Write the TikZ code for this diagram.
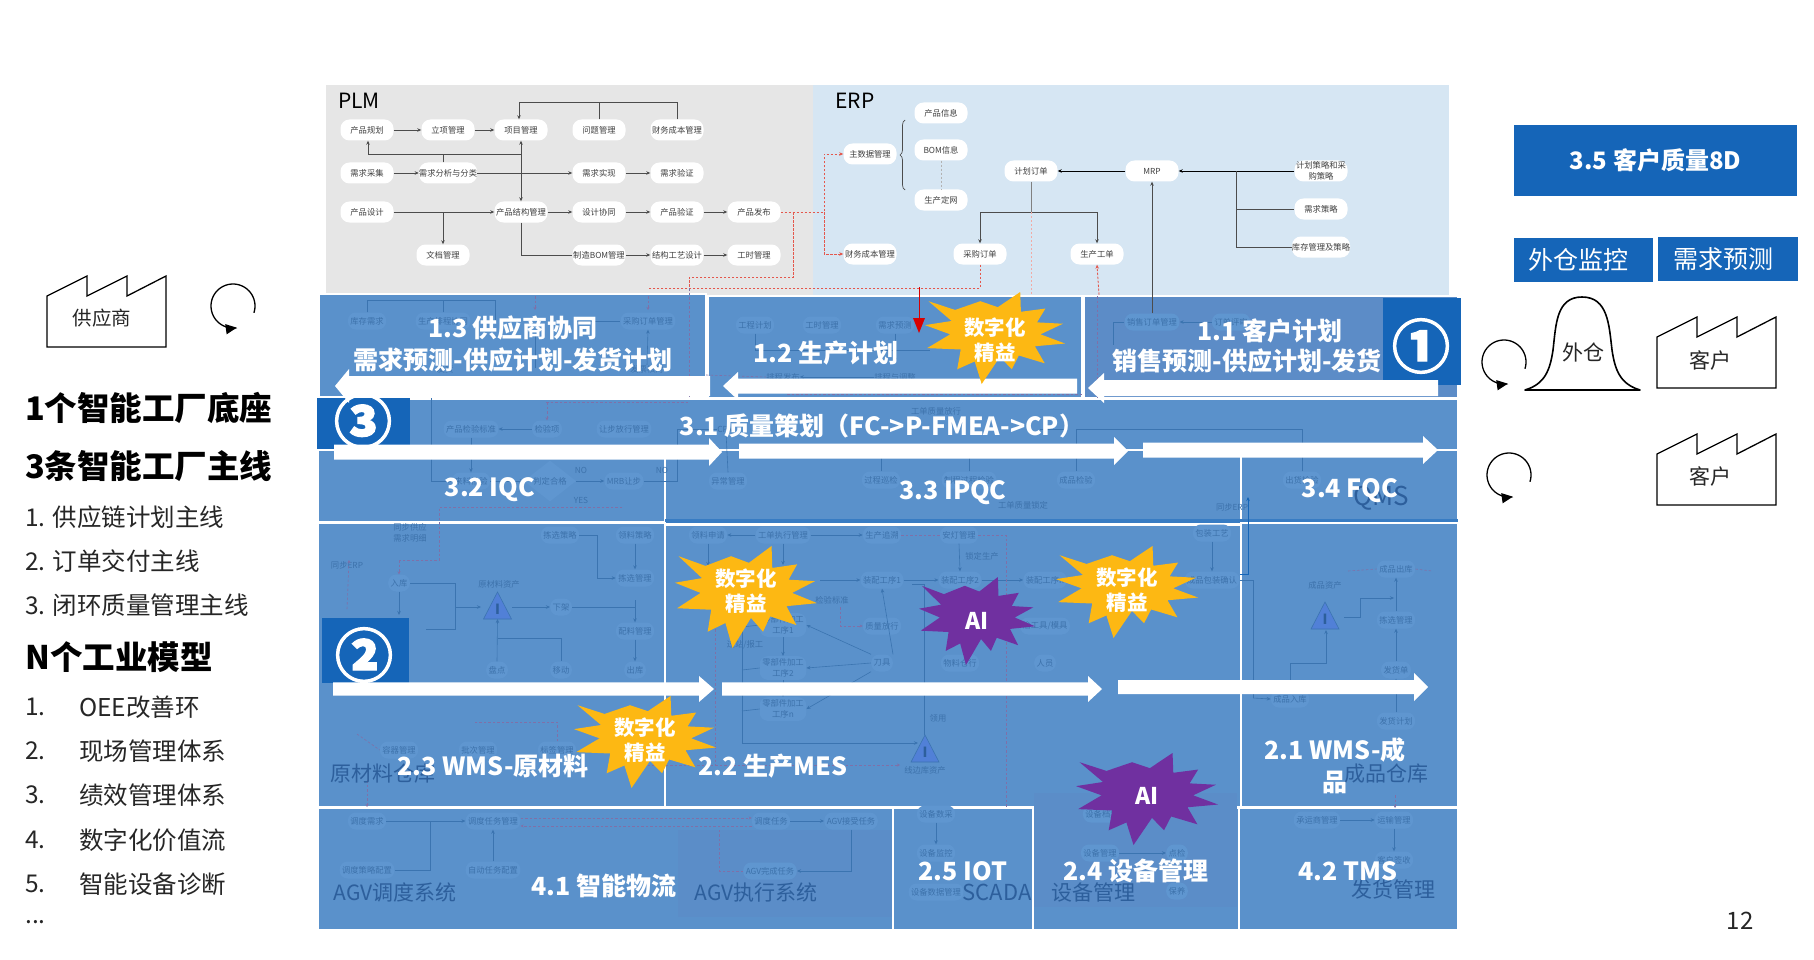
\documentclass[tikz,border=0pt]{standalone}
\usepackage{fontspec}
\setmainfont{Noto Sans CJK SC}
\newfontfamily\circf[BoldFeatures={FakeBold=2}]{Noto Sans CJK SC}
\usetikzlibrary{arrows.meta,decorations.pathreplacing,shapes.geometric}
\definecolor{plmbg}{HTML}{E6E6E6}
\definecolor{erpbg}{HTML}{D6E6F3}
\definecolor{panelc}{HTML}{5A91CB}
\definecolor{panelb}{HTML}{5C8CC7}
\definecolor{panelt}{HTML}{5B8DC8}
\definecolor{deepb}{HTML}{1565B8}
\definecolor{ghostfill}{HTML}{5F96D0}
\definecolor{ghosttxt}{HTML}{3D72AB}
\definecolor{ghostline}{HTML}{3B74B0}
\definecolor{ghostred}{HTML}{7F70A8}
\definecolor{bigghost}{HTML}{2D5F9C}
\definecolor{burstY}{HTML}{FDB813}
\definecolor{burstP}{HTML}{7030A0}
\definecolor{redd}{HTML}{E4574C}
\tikzset{
  x=1pt,y=-1pt,
  fs/.style={font=\fontsize{#1}{11}\selectfont},
  sysnode/.style={fill=white,rounded corners=9pt,minimum width=53pt,minimum height=21pt,inner sep=0pt,align=center,fs=8.3,text=black!75},
  gnodeb/.style={fill=ghostfill,rounded corners=8pt,inner sep=2.5pt,minimum height=17pt,align=center,text=ghosttxt,fs=8.3},
  gtxt/.style={inner sep=0pt,align=center,text=ghosttxt,fs=8.3},
  bigg/.style={inner sep=0pt,text=bigghost,fs=21},
  sysline/.style={draw=black!70,line width=0.7pt,-{Stealth[length=4pt,width=3.5pt]}},
  syspl/.style={draw=black!70,line width=0.7pt},
  dashr/.style={draw=redd,line width=0.8pt,dash pattern=on 2.5pt off 1.5pt},
  gl/.style={draw=ghostline,line width=0.6pt},
  gla/.style={gl,-{Stealth[length=4pt,width=3.5pt]}},
  gd/.style={draw=ghostred,line width=0.6pt,dash pattern=on 2.5pt off 2pt},
  panel/.style={fill=panelc,draw=white,line width=1.4pt},
  lab/.style={inner sep=0pt,text=white,align=center,font=\fontsize{25}{32}\selectfont\bfseries},
  deep/.style={fill=deepb},
  burstlab/.style={inner sep=0pt,text=white,align=center,font=\fontsize{20.5}{25}\selectfont\bfseries},
  ailab/.style={inner sep=0pt,text=white,font=\fontsize{23}{27}\selectfont\bfseries},
  circnum/.style={inner sep=0pt,text=white,font=\fontsize{58}{58}\selectfont\circf\bfseries},
  lefth/.style={inner sep=0pt,anchor=west,text=black,font=\fontsize{32.5}{36}\selectfont\bfseries},
  leftt/.style={inner sep=0pt,anchor=west,text=black!85,font=\fontsize{24.5}{29}\selectfont},
  bluebox/.style={fill=deepb,inner sep=0pt,text=white},
  shapeline/.style={draw=black,line width=1.3pt,fill=white,line join=miter},
  factlab/.style={inner sep=0pt,text=black!85,font=\fontsize{21}{26}\selectfont},
}
\newcommand{\gnode}[5][]{\node[gnodeb,#1] (#2) at (#3,#4) {#5};}
\newcommand{\gt}[4]{\node[gtxt] (#1) at (#2,#3) {#4};}
\newcommand{\snode}[4]{\node[sysnode] (#1) at (#2,#3) {#4};}
\newcommand{\blockarr}[6]{% tail x, head base x, tip x, y, body half, head half
  \fill[white] (#1,{#4-#5}) -- (#2,{#4-#5}) -- (#2,{#4-#6}) -- (#3,#4) -- (#2,{#4+#6}) -- (#2,{#4+#5}) -- (#1,{#4+#5}) -- cycle;}
\def\burstpath{(-.95,-.80) -- (-.57,-.61) -- (-.21,-.80) -- (.04,-.67) -- (.36,-1) -- (.37,-.57) -- (.72,-.64) -- (.60,-.34) -- (.97,-.31) -- (.65,-.08) -- (1,.12) -- (.57,.18) -- (.71,.55) -- (.34,.38) -- (.24,.68) -- (.07,.41) -- (-.19,1) -- (-.29,.51) -- (-.54,.68) -- (-.49,.25) -- (-.97,.22) -- (-.64,-.08) -- (-1,-.28) -- (-.62,-.37) -- cycle}
\newcommand{\burst}[5]{\fill[#5,shift={(#1,#2)},x=#3pt,y=-#4pt] \burstpath;}
\newcommand{\factory}[2]{% left x, bottom y
  \draw[shapeline] (#1,#2) -- (#1,{#2-51}) -- ({#1+40},{#2-71}) -- ({#1+40},{#2-51}) -- ({#1+80},{#2-71}) -- ({#1+80},{#2-51}) -- ({#1+119},{#2-71}) -- ({#1+119},#2) -- cycle;}
\newcommand{\loopmark}[2]{% centre
  \draw[black,line width=1.3pt,-{Triangle[length=11pt,width=10pt]}] plot[domain=-18:280,samples=50,smooth] ({#1+22*cos(\x)},{#2-22*sin(\x)});}
\newcommand{\gtri}[3]{% name, apex x, apex y
  \draw[gl,fill=ghostfill!85!blue] (#2,#3) -- ({#2+14},{#3+27}) -- ({#2-14},{#3+27}) -- cycle;
  \node[inner sep=0pt,text=bigghost,font=\fontsize{14}{14}\selectfont\bfseries] (#1) at (#2,{#3+17}) {I};}
\begin{document}
\begin{tikzpicture}
\useasboundingbox (0,0) rectangle (1814,960);

% ---------- top systems
\fill[plmbg] (326,85) rectangle (813,295);
\fill[erpbg] (813,85) rectangle (1449,295);
\node[inner sep=0pt,fs=21,text=black] (plmt) at (359,101) {PLM};
\node[inner sep=0pt,fs=21,text=black] (erpt) at (855,101) {ERP};

\snode{a1}{367}{130}{产品规划}
\snode{a2}{448}{130}{立项管理}
\snode{a3}{521}{130}{项目管理}
\snode{a4}{599}{130}{问题管理}
\snode{a5}{677}{130}{财务成本管理}
\snode{b1}{367}{173}{需求采集}
\snode{b2}{448}{173}{需求分析与分类}
\snode{b3}{599}{173}{需求实现}
\snode{b4}{677}{173}{需求验证}
\snode{c1}{367}{212}{产品设计}
\snode{c2}{521}{212}{产品结构管理}
\snode{c3}{599}{212}{设计协同}
\snode{c4}{677}{212}{产品验证}
\snode{c5}{754}{212}{产品发布}
\snode{d1}{443}{255}{文档管理}
\snode{d2}{599}{255}{制造BOM管理}
\snode{d3}{677}{255}{结构工艺设计}
\snode{d4}{754}{255}{工时管理}
\coordinate (jt) at (519,102);
\coordinate (jm) at (521,154);
\coordinate (jl) at (368,154);
\draw[sysline] (a1)--(a2);
\draw[sysline] (a2)--(a3);
\draw[sysline] (a5.north) |- (jt) -- (a3.north -| jt);
\draw[syspl] (a4.north) -- (a4.north |- jt);
\draw[sysline] (jm) -- (jl) -- (a1.south -| jl);
\draw[sysline,{Stealth[length=4pt,width=3.5pt]}-{Stealth[length=4pt,width=3.5pt]}] (a3.south) -- (c2.north);
\draw[syspl] (b2.north -| 443,0) -- (443,154);
\draw[sysline] (b1)--(b2);
\draw[sysline] (b2)--(b3);
\draw[sysline] (b3)--(b4);
\draw[sysline] (c1)--(c2);
\draw[sysline] (c2)--(c3);
\draw[sysline] (c3)--(c4);
\draw[sysline] (c4)--(c5);
\draw[sysline] (c1 -| d1) -- (d1.north);
\draw[syspl] (c2.south) |- (d2.west);
\draw[sysline] (d2)--(d3);
\draw[sysline] (d3)--(d4);

\snode{e1}{941}{113}{产品信息}
\snode{e2}{941}{150}{BOM信息}
\snode{e3}{941}{200}{生产定网}
\snode{e4}{870}{154}{主数据管理}
\snode{e5}{870}{254}{财务成本管理}
\snode{e6}{1031}{171}{计划订单}
\snode{e7}{1152}{171}{MRP}
\snode{e8}{1321}{171}{计划策略和采\\购策略}
\snode{e9}{1321}{209}{需求策略}
\snode{e10}{1321}{247}{库存管理及策略}
\snode{e11}{980}{254}{采购订单}
\snode{e12}{1097}{254}{生产工单}
\draw[syspl,decorate,decoration={brace,amplitude=5pt,mirror}] (905,120) -- (905,190);
\draw[black!30,line width=0.6pt,dash pattern=on 2pt off 2pt] (e2.south) -- (e3.north);
\draw[sysline,draw=black] (e7)--(e6);
\draw[sysline,draw=black] (e8)--(e7);
\draw[syspl] (1236,171) |- (e10.west);
\draw[syspl] (1236,209) -- (e9.west);
\draw[syspl,black!50,line width=1pt] (e6.south) -- (1031,212);
\draw[sysline] (e6.south |- 0,212) -- (980,212) -- (e11.north);
\draw[sysline] (e6.south |- 0,212) -- (1097,212) -- (e12.north);
% dashed red links
\coordinate (rv) at (824,212);
\draw[dashr,-{Stealth[length=4pt,width=3.5pt]}] (c5.east) -- (rv) |- (e4.west);
\draw[dashr,-{Stealth[length=4pt,width=3.5pt]}] (rv) |- (e5.west);
\draw[dashr] (793,212) |- (689,277) -- (689,288);
\draw[dashr] (e11.south) |- (648,288);
\draw[dashr,-{Stealth[length=4pt,width=3.5pt]}] (1099,295) -- (e12.south);
\draw[redd!50,line width=0.6pt,dash pattern=on 2pt off 2pt] (e6.south |- 0,212) -- (1031,295);

% ---------- panels
\draw[panel] (319,294) rectangle (706,397);
\draw[panel] (708,296) rectangle (1082,398);
\draw[panel,fill=panelb] (1084,296) rectangle (1458,398);
\draw[panel] (318,399) rectangle (1458,450);
\draw[panel] (318,450) rectangle (665,522);
\draw[panel] (665,450) rectangle (1241,524);
\draw[panel] (1241,450) rectangle (1458,522);
\fill[deepb!85] (665,519) rectangle (1458,523);
\draw[panel] (318,523) rectangle (665,807);
\draw[panel] (665,525) rectangle (1241,807);
\draw[panel] (1241,523) rectangle (1458,807);
\draw[panel] (318,808) rectangle (893,930);
\draw[panel] (893,808) rectangle (1033,930);
\draw[panel] (1033,808) rectangle (1239,930);
\draw[panel] (1239,808) rectangle (1458,930);
\fill[panelt] (678,830) rectangle (892,917);
\fill[panelt] (1034,793) rectangle (1237,907);

% ---------- ghost layer row 1
\gnode{p1}{367}{321}{库存需求}
\gnode{p2}{443}{321}{生产排程协同}
\gnode{p3}{648}{321}{采购订单管理}
\gt{p4}{647}{369}{发票核对}
\gt{p5}{445}{369}{发货}
\draw[gl] (p1.north) |- (495,300) -- (495,321);
\draw[gl] (p2.north) -- (443,300);
\draw[gl] (577,321) -- (p3.west);
\draw[gl] (535,335) -- (535,368);
\draw[gla] (p4.north) -- (p3.south);
\draw[gd,-{Stealth[length=3pt,width=3pt]}] (535,296) -- (535,310);
\draw[gd,-{Stealth[length=3pt,width=3pt]}] (648,296) -- (648,310);
\draw[gd] (689,288) -- (689,397);
\gnode{q1}{755}{325}{工程计划}
\gnode{q2}{822}{325}{工时管理}
\gnode{q3}{895}{325}{需求预测}
\gt{q4}{783}{377}{排程发布}
\gt{q5}{895}{377}{排程与调整}
\draw[gl] (q1.south) |- (930,350);
\draw[gla] (q3.south) -- (895,362);
\draw[gla] (q5.west) -- (q4.east);
\draw[gd] (706,375) -- (q4.west);
\draw[gd] (787,394) -- (1082,394);
\gnode{r1}{1152}{322}{销售订单管理}
\gnode{r2}{1231}{322}{订单评审}
\draw[gla] (r2.west) -- (r1.east);
\draw[gl] (r1.west) -- (1113,322) -- (1113,345);
\draw[sysline] (r1.north) -- (e7.south);
\draw[gd] (1097,296) -- (1097,398);
% row 2
\gnode{s1}{471}{429}{产品检验标准}
\gnode{s2}{547}{429}{检验项}
\gnode{s3}{624}{429}{让步放行管理}
\gnode{s4}{471}{481}{来料检验}
\node[diamond,fill=ghostfill,inner sep=0pt,minimum width=52pt,minimum height=32pt,text=ghosttxt,fs=8.3] (s5) at (550,481) {判定合格};
\gnode{s6}{624}{481}{MRB让步}
\gt{s7}{581}{470}{NO}
\gt{s8}{662}{470}{NO}
\gt{s9}{581}{500}{YES}
\gnode{s10}{728}{481}{异常管理}
\gt{s11}{726}{429}{CPM}
\draw[gla] (s2)--(s1);
\draw[gla] (s1)--(s4);
\draw[gla] (431,398) |- (s4.west);
\draw[gla] (s4)--(s5);
\draw[gla] (s5)--(s6);
\draw[gl] (s6.east) -- (677,481) |- (s11.west);
\draw[gla] (s10.north) -- (s11.south);
\draw[gd] (546,402) -- (688,402);
\draw[gd,-{Stealth[length=3pt,width=3pt]}] (547,402) -- (s2.north);
\draw[gd] (622,507) -- (439,507) -- (439,560) -- (399,560);
\gt{t1}{936}{411}{工单质量放行}
\gnode{t2}{881}{480}{过程巡检}
\gnode{t3}{969}{480}{制程过程检验}
\gnode{t4}{1076}{480}{成品检验}
\gnode{t5}{1302}{480}{出货检验}
\gt{t6}{1023}{505}{工单质量锁定}
\gt{t7}{1232}{507}{同步ERP}
\draw[gl] (t5.north) |- (t4.north |- 0,429) -- (t4.north);
\draw[gl] (t2.north) -- (881,452);
\draw[gl] (t3.north) -- (969,452);
\draw[gl] (1066,429) -- (1040,429);
\draw[gla,draw=deepb] (1240,574) -- (1248,574) -- (1248,497);
% row 3 left
\gt{u1}{410}{533}{同步供应\\需求明细}
\gnode{u2}{560}{535}{拣选策略}
\gnode{u3}{635}{535}{领料策略}
\gt{u4}{347}{565}{同步ERP}
\gnode{u5}{399}{583}{入库}
\gt{u6}{499}{584}{原材料资产}
\gnode{u7}{635}{578}{拣选管理}
\gnode{u8}{561}{607}{下架}
\gnode{u9}{635}{631}{配料管理}
\gnode{u10}{497}{670}{盘点}
\gnode{u11}{561}{670}{移动}
\gnode{u12}{635}{670}{出库}
\gnode{u13}{399}{750}{容器管理}
\gnode{u14}{478}{750}{批次管理}
\gnode{u15}{557}{750}{标签管理}
\gtri{u16}{497.5}{592}
\coordinate (u17) at (481,607);
\draw[gd,-{Stealth[length=3pt,width=3pt]}] (399,560) -- (u5.north);
\draw[gla] (u5.south) -- (399,615);
\draw[gl] (u5.east) -- (455,583) -- (455,629) -- (426,629);
\draw[gla] (455,607) -- (u17);
\draw[gla] (512,607) -- (u8.west);
\draw[gl] (u8.east) -- (635,607);
\draw[gla] (635,600) -- (u9.north);
\draw[gla] (u3.south) -- (u7.north);
\draw[gla] (u2.east) -- (597,535) |- (u7.west);
\draw[gla] (u9.south) -- (u12.north);
\draw[gla] (u10.north) -- (497.5,619);
\draw[gl] (497.5,638) -- (561,638) -- (u11.north);
\draw[gd,-{Stealth[length=3pt,width=3pt]}] (u4.south) ++(0,40) -- (349,560);
\draw[gd] (u15.north) -- (557,722) -- (475,722);
\draw[gd] (625,765) -- (715,765);
\draw[gd] (357,734) -- (u13.west);
\draw[gd,-{Stealth[length=3pt,width=3pt]}] (367,780) -- (367,807);
% MES
\gnode{v1}{708}{535}{领料申请}
\gnode{v2}{783}{535}{工单执行管理}
\gnode{v3}{882}{535}{生产追溯}
\gnode{v4}{959}{535}{安灯管理}
\gnode{v5}{1212}{533}{包装工艺}
\gnode{v6}{882}{580}{装配工序1}
\gnode{v7}{960}{580}{装配工序2}
\gnode{v8}{1045}{580}{装配工序n}
\gnode{v9}{1212}{580}{成品包装确认}
\gt{v10}{832}{600}{检验标准}
\gnode{v11}{882}{626}{质量放行}
\gnode{v12}{1045}{626}{治工具/模具}
\gnode{v13}{882}{663}{刀具}
\gnode{v14}{960}{663}{物料仓行}
\gnode{v15}{1045}{663}{人员}
\gnode{v16}{783}{625}{零部件加工\\工序1}
\gnode{v17}{783}{668}{零部件加工\\工序2}
\gnode{v18}{783}{709}{零部件加工\\工序n}
\gt{v19}{745}{645}{过站/报工}
\gt{v20}{938}{718}{领用}
\gt{v21}{925}{770}{线边库资产}
\gt{v22}{982}{556}{锁定生产}
\gtri{v23}{925}{735}
\draw[gla] (v2.west) -- (v1.east);
\draw[gla] (v2.east) -- (v3.west);
\draw[gla] (v1.south) -- (708,566);
\draw[gla] (v2.south) -- (783,565);
\draw[gla] (820,580) -- (v6.west);
\draw[gla] (v6.east) -- (v7.west);
\draw[gla] (v7.east) -- (v8.west);
\draw[gla] (v4.south) -- (v7.north);
\draw[gla] (v5.south) -- (v9.north);
\draw[gla] (v16.south) -- (v17.north);
\draw[gla] (v17.south) -- (v18.north);
\draw[gla] (v13.west) -- (v17.east);
\draw[gla] (v13.north west) -- (v16.east);
\draw[gla] (v13.south west) -- (v18.east);
\draw[gla] (v13.north east) -- (v6.south);
\draw[gl] (924,735) -- (924,584) -- (912,584);
\draw[gla] (742,627) -- (742,743) -- (918,743);
\draw[gl] (742,627) -- (v16.west);
\draw[gl] (742,670) -- (v17.west);
\draw[gl] (742,711) -- (v18.west);
\draw[gd] (v3.east) -- (v4.west);
\draw[gd] (v4.east) -- (1006,535) -- (1006,807);
\draw[gd,-{Stealth[length=3pt,width=3pt]}] (840,607) -- (840,626) -- (v11.west);
\draw[gd,-{Stealth[length=3pt,width=3pt]}] (715,765) -- (900,765);
\draw[gd] (715,620) -- (715,765);
\draw[gl] (v9.east) -- (1253,580) -- (1253,698);
% row 3 right
\gnode{w1}{1396}{569}{成品出库}
\gt{w2}{1325}{585}{成品资产}
\gnode{w3}{1396}{620}{拣选管理}
\gnode{w4}{1396}{670}{发货单}
\gnode{w5}{1290}{699}{成品入库}
\gnode{w6}{1396}{721}{发货计划}
\gtri{w7}{1325}{602}
\draw[gla] (1253,698) -- (w5.west);
\draw[gla] (w5.north) -- (1290,663) -- (1326,663) -- (1326,630);
\draw[gl] (1344,617) -- (1360,617) -- (1360,598);
\draw[gla] (1360,598) -- (1394,598);
\draw[gla] (w3.north) -- (w1.south);
\draw[gla] (w4.north) -- (w3.south);
\draw[gla] (w6.north) -- (w4.south);
\draw[gd] (1348,571) -- (w1.west);
\draw[gd] (w1.east) -- (1432,571);
\draw[gd,-{Stealth[length=3pt,width=3pt]}] (1395,795) -- (1395,808);
% bottom row
\gnode{x1}{367}{821}{调度需求}
\gnode{x2}{493}{821}{调度任务管理}
\gnode{x3}{771}{821}{调度任务}
\gnode{x4}{851}{821}{AGV接受任务}
\gnode{x5}{367}{870}{调度策略配置}
\gnode{x6}{493}{870}{自动任务配置}
\gnode{x7}{770}{871}{AGV完成任务}
\draw[gla] (x1.east) -- (x2.west);
\draw[gl] (x5.east) -- (430,870) -- (430,821);
\draw[gla] (x6.north) -- (x2.south);
\draw[gd,-{Stealth[length=3pt,width=3pt]}] (x2.east |- 0,818) -- (x3.west |- 0,818);
\draw[gd,-{Stealth[length=3pt,width=3pt]}] (x3.west |- 0,826) -- (x2.east |- 0,826);
\draw[gla] (x3.east) -- (x4.west);
\draw[gla] (x4.south) |- (x7.east);
\draw[gd] (x7.west) -- (719,871) -- (719,830);
\gnode{y1}{936}{814}{设备数采}
\gnode{y2}{936}{853}{设备监控}
\gnode{y3}{936}{892}{设备数据管理}
\draw[gla] (y1)--(y2);
\gnode{y4}{1102}{814}{设备档案}
\gnode{y5}{1100}{853}{设备管理}
\gnode{y6}{1177}{853}{点检}
\gnode{y7}{1177}{891}{保养}
\draw[gla] (y5)--(y6);
\gnode{y8}{1317}{820}{承运商管理}
\gnode{y9}{1394}{820}{运输管理}
\gnode{y10}{1394}{860}{客户签收}
\draw[gla] (y8)--(y9);
\draw[gla] (y9)--(y10);
\node[bigg] (z1) at (383,774) {原材料仓库};
\node[bigg] (z2) at (1386,774) {成品仓库};
\node[bigg] (z3) at (395,892) {AGV调度系统};
\node[bigg] (z4) at (756,892) {AGV执行系统};
\node[bigg,fs=22] (z5) at (997,892) {SCADA};
\node[bigg] (z6) at (1093,892) {设备管理};
\node[bigg] (z7) at (1393,889) {发货管理};
\node[bigg,fs=26] (z8) at (1381,498) {QMS};

% ---------- labels
\node[lab] (l1) at (513,344) {1.3 供应商协同\\需求预测-供应计划-发货计划};
\node[lab] (l2) at (826,353) {1.2 生产计划};
\node[lab] (l3) at (1270,331) {1.1 客户计划};
\node[lab] (l4) at (1247,361) {销售预测-供应计划-发货};
\node[lab] (l5) at (882,426) {3.1 质量策划（FC->P-FMEA->CP）};
\node[lab] (l6) at (490,490) {3.2 IQC};
\node[lab] (l7) at (953,493) {3.3 IPQC};
\node[lab] (l8) at (1350,491) {3.4 FQC};
\node[lab] (l9) at (493,766) {2.3 WMS-原材料};
\node[lab] (l10) at (773,766) {2.2 生产MES};
\node[lab] (l11) at (1335,766) {2.1 WMS-成\\品};
\node[lab] (l12) at (604,886) {4.1 智能物流};
\node[lab] (l13) at (963,871) {2.5 IOT};
\node[lab] (l14) at (1136,871) {2.4 设备管理};
\node[lab] (l15) at (1348,871) {4.2 TMS};

% ---------- badges
\fill[deep] (1383,298) rectangle (1461,385);
\fill[deep] (317,398) rectangle (410,449);
\fill[deep] (322,618) rectangle (409,683);
\node[circnum] (n1) at (1421,346) {①};
\node[circnum] (n3) at (363,421) {③};
\node[circnum] (n2) at (364,655) {②};

% ---------- block arrows
\blockarr{710}{349}{335}{386}{10}{17}
\blockarr{1077}{738}{723}{386}{7.5}{14}
\blockarr{1438}{1104}{1088}{388}{8}{15}
\blockarr{334}{709}{722}{452}{7.5}{14}
\blockarr{739}{1114}{1128}{451}{7.5}{14}
\blockarr{1143}{1423}{1438}{450}{7.5}{14}
\blockarr{333}{699}{714}{689}{6.7}{13}
\blockarr{722}{1088}{1102}{689}{6.7}{13}
\blockarr{1118}{1414}{1428}{687}{7}{14}

% ---------- red arrow and bursts
\draw[draw=red!85!black,line width=0.9pt] (919,287) -- (919,320);
\fill[red!85!black] (913,318) -- (925,318) -- (919,333) -- cycle;
\burst{995}{338}{70}{46}{burstY}
\burst{746}{597}{71}{51}{burstY}
\burst{1127}{592}{71}{46}{burstY}
\burst{645}{742}{71}{46}{burstY}
\burst{977}{621}{58}{44}{burstP}
\burst{1147}{799}{71}{46}{burstP}
\node[burstlab] (k1) at (995,340) {数字化\\精益};
\node[burstlab] (k2) at (746,591) {数字化\\精益};
\node[burstlab] (k3) at (1127,590) {数字化\\精益};
\node[burstlab] (k4) at (645,740) {数字化\\精益};
\node[ailab] (k5) at (977,621) {AI};
\node[ailab] (k6) at (1147,796) {AI};

% ---------- right column
\node[bluebox,minimum width=283pt,minimum height=71pt,font=\fontsize{24}{28}\selectfont\bfseries] (m1) at (1655.5,160.5) {\raisebox{-2pt}{3.5 客户质量8D}};
\node[bluebox,minimum width=139pt,minimum height=44pt,font=\fontsize{25}{28}\selectfont] (m2) at (1583,260) {外仓监控\hspace*{10pt}};
\node[bluebox,minimum width=140pt,minimum height=44pt,font=\fontsize{25}{28}\selectfont] (m3) at (1728,259) {需求预测\hspace*{9pt}};
\draw[shapeline,line width=1.6pt,line join=round] (1525,390) .. controls (1545,384) and (1550,370) .. (1553,350) .. controls (1556,325) and (1556,297) .. (1582,297) .. controls (1608,297) and (1609,325) .. (1612,350) .. controls (1615,370) and (1620,384) .. (1640,390) -- cycle;
\node[factlab] (m4) at (1583,352) {外仓};
\factory{1657}{388}
\node[factlab] (m5) at (1710,360) {客户};
\factory{1657}{505}
\node[factlab] (m6) at (1710,476) {客户};
\loopmark{1504}{362}
\loopmark{1509}{475}

% ---------- left column
\factory{47}{347}
\node[factlab,font=\fontsize{19.5}{24}\selectfont] (o1) at (102,318) {供应商};
\loopmark{233}{306}
\node[lefth] (h1) at (25,408) {1个智能工厂底座};
\node[lefth] (h2) at (25,466) {3条智能工厂主线};
\node[leftt] (h3) at (25,517) {1. 供应链计划主线};
\node[leftt] (h4) at (25,561) {2. 订单交付主线};
\node[leftt] (h5) at (25,605) {3. 闭环质量管理主线};
\node[lefth] (h6) at (25,657) {N个工业模型};
\node[leftt] (h7) at (25,707) {1.};
\node[leftt] (h8) at (25,751) {2.};
\node[leftt] (h9) at (25,795) {3.};
\node[leftt] (h10) at (25,840) {4.};
\node[leftt] (h11) at (25,884) {5.};
\node[leftt] (h12) at (25,922) {...};
\node[leftt] (i1) at (79,707) {OEE改善环};
\node[leftt] (i2) at (79,751) {现场管理体系};
\node[leftt] (i3) at (79,795) {绩效管理体系};
\node[leftt] (i4) at (79,840) {数字化价值流};
\node[leftt] (i5) at (79,884) {智能设备诊断};
\node[inner sep=0pt,text=black!85,font=\fontsize{24}{28}\selectfont] (pg) at (1740,921) {12};
\end{tikzpicture}
\end{document}
